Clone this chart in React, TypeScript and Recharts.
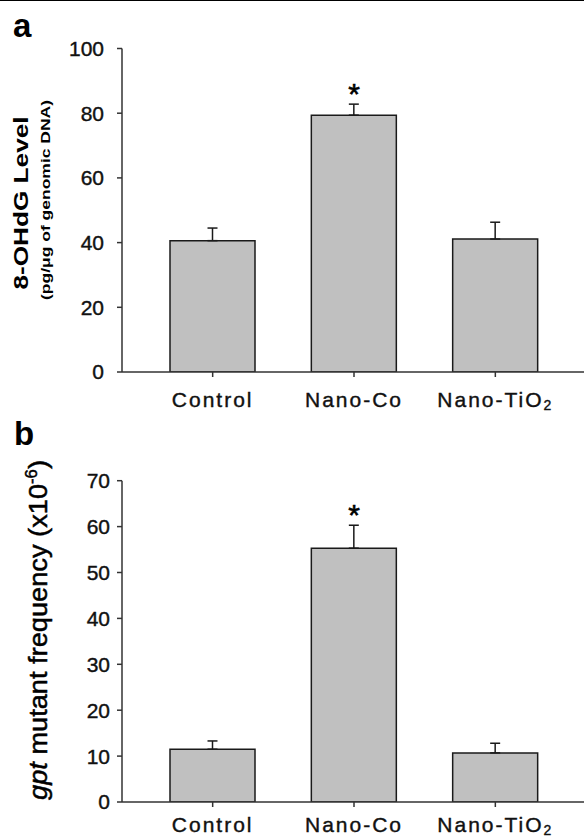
import { BarChart, Bar, XAxis, YAxis, ErrorBar, ReferenceDot } from 'recharts';

const categories = ['Control', 'Nano-Co', 'Nano-TiO2'];
const ohdgMean = [40.6, 79.4, 41.1];
const ohdgSem = [3.9, 3.4, 5.2];
const gptMean = [11.5, 55.3, 10.7];
const gptSem = [1.8, 5.0, 2.1];
const marks = ['', '*', ''];
const ohdgTicks = [0, 20, 40, 60, 80, 100];
const gptTicks = [0, 10, 20, 30, 40, 50, 60, 70];

const FONT = '"Liberation Sans", Arial, Helvetica, sans-serif';
const INK = '#1a1a1a';
const AXIS = '#333';

const ohdgData = categories.map((cat, i) => ({ cat, mean: ohdgMean[i], err: [0, ohdgSem[i]] }));
const gptData = categories.map((cat, i) => ({ cat, mean: gptMean[i], err: [0, gptSem[i]] }));

function CatTick(props: any) {
  const { x, y, payload } = props;
  const v = String(payload.value);
  const hasSub = v.endsWith('O2');
  return (
    <text
      x={x}
      y={y}
      dy="0.71em"
      textAnchor="middle"
      fontFamily={FONT}
      fontSize={21}
      letterSpacing={2}
      fill="#111"
      stroke="#111"
      strokeWidth={0.4}
    >
      {hasSub ? (
        <>
          {v.slice(0, -1)}
          <tspan fontSize={14} dy={3}>2</tspan>
        </>
      ) : (
        v
      )}
    </text>
  );
}

function StarLabel(props: any) {
  const { viewBox, value } = props;
  if (!value) return null;
  return (
    <text x={viewBox.x} y={viewBox.y} textAnchor="middle" fontFamily={FONT} fontSize={30} fill="#000" stroke="#000" strokeWidth={0.6}>
      {value}
    </text>
  );
}

function Panel({ data, means, sems, ticks, max, height, top, bottom, yTickMargin, xTickMargin }: any) {
  return (
    <BarChart width={584} height={height} data={data} margin={{ top, right: 0, bottom, left: 62 }}>
      <XAxis
        dataKey="cat"
        padding={{ left: 20, right: 18 }}
        tickSize={5}
        tickMargin={xTickMargin}
        height={30}
        axisLine={{ stroke: AXIS, strokeWidth: 1.5 }}
        tickLine={{ stroke: AXIS, strokeWidth: 1.5 }}
        tick={<CatTick />}
        interval={0}
      />
      <YAxis
        width={60}
        domain={[0, max]}
        ticks={ticks}
        tickSize={5}
        tickMargin={yTickMargin}
        axisLine={{ stroke: AXIS, strokeWidth: 1.5 }}
        tickLine={{ stroke: AXIS, strokeWidth: 1.5 }}
        tick={{ fontSize: 21, fill: '#111', stroke: '#111', strokeWidth: 0.4, fontFamily: FONT }}
        allowDataOverflow
      />
      <Bar dataKey="mean" fill="#c0c0c0" stroke={INK} strokeWidth={1.5} barSize={85} isAnimationActive={false}>
        <ErrorBar dataKey="err" width={5} stroke={INK} strokeWidth={1.5} direction="y" isAnimationActive={false} />
      </Bar>
      {categories.map((cat, i) =>
        marks[i] ? (
          <ReferenceDot
            key={cat}
            x={cat}
            y={means[i] + sems[i]}
            r={0}
            fill="none"
            stroke="none"
            label={{ value: marks[i], content: StarLabel }}
          />
        ) : null
      )}
    </BarChart>
  );
}

export default function App() {
  return (
    <div style={{ position: 'absolute', left: 0, top: 0, width: 584, height: 838, background: '#fff', overflow: 'hidden' }}>
      <div style={{ position: 'absolute', left: 0, top: 0, width: 584, height: 1, background: '#000' }} />
      <div style={{ position: 'absolute', left: 0, top: 0 }}>
        <Panel
          data={ohdgData}
          means={ohdgMean}
          sems={ohdgSem}
          ticks={ohdgTicks}
          max={100}
          height={420}
          top={48.5}
          bottom={18}
          yTickMargin={13}
          xTickMargin={15}
        />
      </div>
      <div style={{ position: 'absolute', left: 0, top: 420 }}>
        <Panel
          data={gptData}
          means={gptMean}
          sems={gptSem}
          ticks={gptTicks}
          max={70}
          height={418}
          top={60.7}
          bottom={6}
          yTickMargin={7}
          xTickMargin={10}
        />
      </div>
      <svg width={584} height={838} style={{ position: 'absolute', left: 0, top: 0, pointerEvents: 'none' }}>
        <text x={13} y={37} fontFamily={FONT} fontSize={33} fontWeight="bold" fill="#000">a</text>
        <text x={14} y={445} fontFamily={FONT} fontSize={33} fontWeight="bold" fill="#000">b</text>
        <text
          x={28}
          y={203}
          transform="rotate(-90 28 203)"
          textAnchor="middle"
          fontFamily={FONT}
          fontSize={21}
          fontWeight="bold"
          fill="#000"
          textLength={173}
          lengthAdjust="spacingAndGlyphs"
        >
          8-OHdG Level
        </text>
        <text
          x={50}
          y={200}
          transform="rotate(-90 50 200)"
          textAnchor="middle"
          fontFamily={FONT}
          fontSize={12}
          fontWeight="bold"
          fill="#000"
          textLength={200}
          lengthAdjust="spacingAndGlyphs"
        >
          (pg/μg of genomic DNA)
        </text>
        <text
          x={47}
          y={630}
          transform="rotate(-90 47 630)"
          textAnchor="middle"
          fontFamily={FONT}
          fontSize={26}
          fill="#000"
          stroke="#000"
          strokeWidth={0.5}
          textLength={340}
          lengthAdjust="spacingAndGlyphs"
        >
          <tspan fontStyle="italic">gpt</tspan> mutant frequency (x10
          <tspan fontSize={16} dy={-10}>-6</tspan>
          <tspan dy={10}>)</tspan>
        </text>
      </svg>
    </div>
  );
}
